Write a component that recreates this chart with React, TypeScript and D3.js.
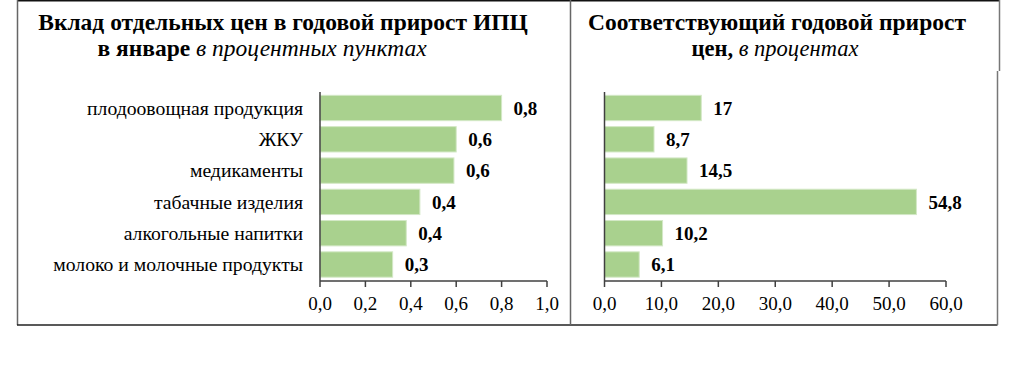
import React from "react";
import * as d3 from "d3";

const categories = [
  "плодоовощная продукция",
  "ЖКУ",
  "медикаменты",
  "табачные изделия",
  "алкогольные напитки",
  "молоко и молочные продукты",
];
const contribution = [0.8, 0.6, 0.59, 0.44, 0.38, 0.32];
const growth = [17, 8.7, 14.5, 54.8, 10.2, 6.1];
const leftTicks = [0, 0.2, 0.4, 0.6, 0.8, 1.0];
const rightTicks = [0, 10, 20, 30, 40, 50, 60];

const FONT = "Liberation Serif, serif";
const BAR = "#A9D18E";
const comma = (s: string) => s.replace(".", ",");

export default function App() {
  const y = d3
    .scaleBand<string>()
    .domain(categories)
    .range([92.5, 280])
    .paddingInner(0.19)
    .paddingOuter(0.09);
  const xL = d3.scaleLinear().domain([0, 1]).range([320, 547]);
  const xR = d3.scaleLinear().domain([0, 60]).range([604.5, 946]);
  const axisY = 281;

  const fmtL = (v: number) => comma(v.toFixed(1));
  const fmtR = (v: number) => (Number.isInteger(v) ? String(v) : comma(v.toFixed(1)));

  const panel = (
    x: d3.ScaleLinear<number, number>,
    values: number[],
    ticks: number[],
    fmt: (v: number) => string
  ) => (
    <g>
      {values.map((v, i) => (
        <rect
          key={"b" + i}
          x={x(0)}
          y={y(categories[i])}
          width={x(v) - x(0)}
          height={y.bandwidth()}
          fill={BAR}
          stroke="#d3e8c6"
          strokeWidth={1}
        />
      ))}
      {values.map((v, i) => (
        <text
          key={"v" + i}
          x={x(v) + 12}
          y={(y(categories[i]) as number) + y.bandwidth() / 2}
          dy="0.35em"
          style={{ fontFamily: FONT, fontWeight: "bold", fontSize: 19 }}
          fill="#000"
        >
          {fmt(v)}
        </text>
      ))}
      <line x1={x(0)} x2={x(0)} y1={92} y2={axisY} stroke="#404040" strokeWidth={1.5} />
      <line x1={x(0)} x2={x(ticks[ticks.length - 1])} y1={axisY} y2={axisY} stroke="#404040" strokeWidth={1.5} />
      {ticks.map((t, i) => (
        <g key={"t" + i}>
          <line x1={x(t)} x2={x(t)} y1={axisY} y2={axisY + 6} stroke="#404040" strokeWidth={1.5} />
          <text
            x={x(t)}
            y={303}
            dy="0.35em"
            textAnchor="middle"
            style={{ fontFamily: FONT, fontSize: 19 }}
            fill="#000"
          >
            {comma(t.toFixed(1))}
          </text>
        </g>
      ))}
    </g>
  );

  return (
    <svg
      width={1024}
      height={371}
      style={{ position: "absolute", left: 0, top: 0, background: "#fff" }}
    >
      <rect x={0} y={0} width={1024} height={371} fill="#fff" />
      {/* frame */}
      <line x1={17.5} x2={999} y1={0.8} y2={0.8} stroke="#111" strokeWidth={1.6} />
      <line x1={17.5} x2={17.5} y1={0} y2={325} stroke="#666" strokeWidth={1.5} />
      <line x1={17} x2={997.5} y1={325} y2={325} stroke="#222" strokeWidth={1.5} />
      <line x1={570.5} x2={570.5} y1={0} y2={325} stroke="#666" strokeWidth={1.5} />
      <line x1={999.5} x2={999.5} y1={0} y2={71} stroke="#777" strokeWidth={1.5} />
      <line x1={997.5} x2={997.5} y1={71} y2={325} stroke="#777" strokeWidth={1.5} />

      {/* titles */}
      <text x={283} y={30} textAnchor="middle" style={{ fontFamily: FONT, fontWeight: "bold", fontSize: 23.5 }} fill="#000">
        Вклад отдельных цен в годовой прирост ИПЦ
      </text>
      <text x={262} y={56} textAnchor="middle" style={{ fontFamily: FONT, fontSize: 23.5 }} fill="#000">
        <tspan fontWeight="bold">в январе </tspan>
        <tspan fontStyle="italic">в процентных пунктах</tspan>
      </text>
      <text x={777} y={30} textAnchor="middle" style={{ fontFamily: FONT, fontWeight: "bold", fontSize: 23.5 }} fill="#000">
        Соответствующий годовой прирост
      </text>
      <text x={775} y={56} textAnchor="middle" style={{ fontFamily: FONT, fontSize: 22.5 }} fill="#000">
        <tspan fontWeight="bold">цен, </tspan>
        <tspan fontStyle="italic">в процентах</tspan>
      </text>

      {/* category labels */}
      {categories.map((c) => (
        <text
          key={c}
          x={303}
          y={(y(c) as number) + y.bandwidth() / 2}
          dy="0.35em"
          textAnchor="end"
          style={{ fontFamily: FONT, fontSize: 19.7 }}
          fill="#000"
        >
          {c}
        </text>
      ))}

      {panel(xL, contribution, leftTicks, fmtL)}
      {panel(xR, growth, rightTicks, fmtR)}
    </svg>
  );
}
